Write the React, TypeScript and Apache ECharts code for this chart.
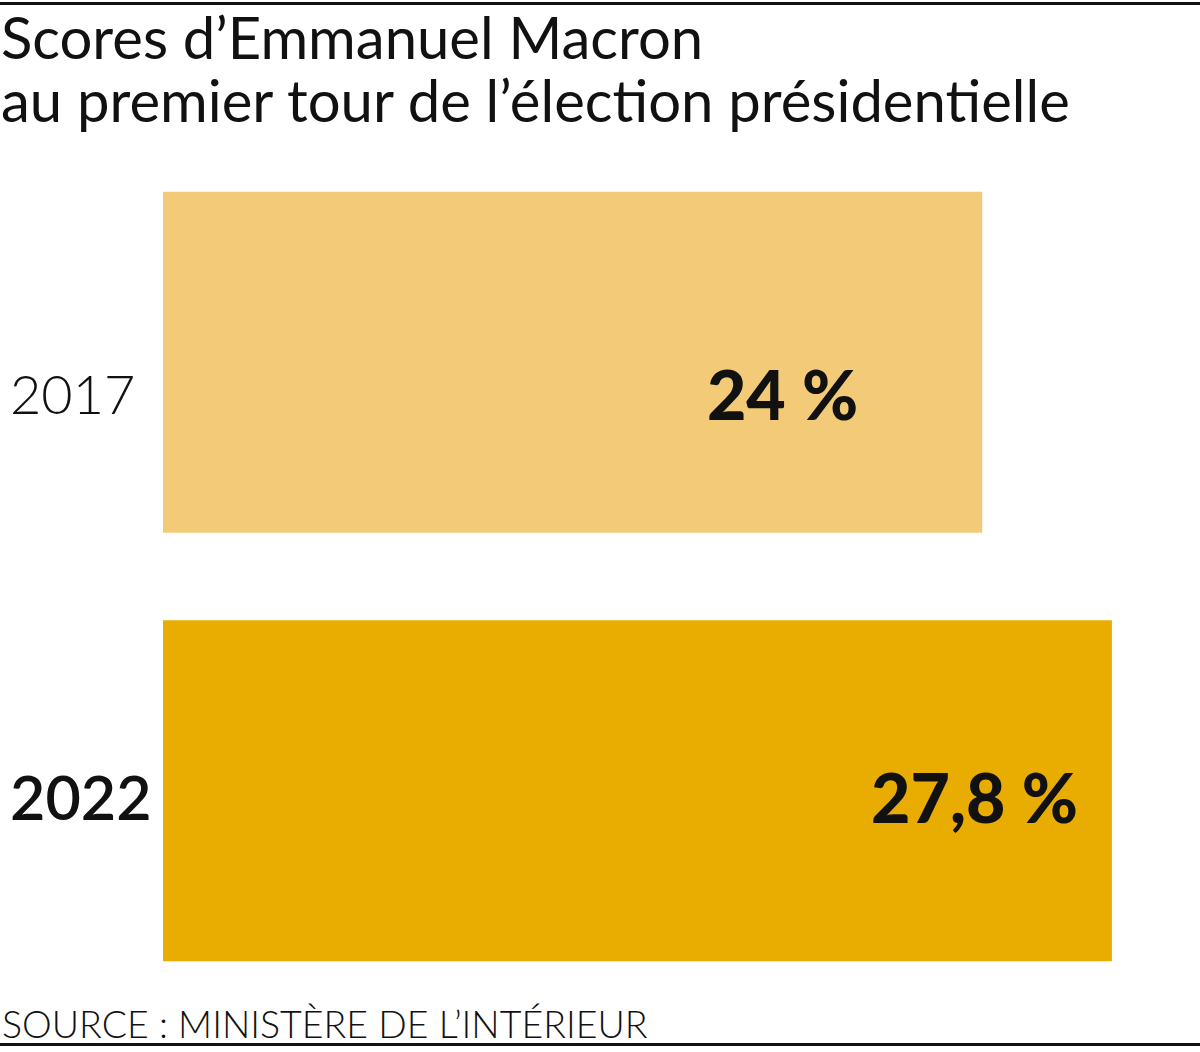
import React, { useEffect, useRef } from "react";
import * as echarts from "echarts";

const years = ["2017", "2022"];
const scores = [24, 27.8];
const scoreLabels = ["24 %", "27,8 %"];
const barColors = ["#F2CA78", "#E9AC00"];
const labelDistances = [124, 34];
const labelOffsets = [31, 6];
const titleLines = ["Scores d’Emmanuel Macron", "au premier tour de l’élection présidentielle"];
const sourceText = "SOURCE : MINISTÈRE DE L’INTÉRIEUR";

export default function App() {
  const ref = useRef<HTMLDivElement>(null);
  useEffect(() => {
    document.body.style.margin = "0";
    const chart = echarts.init(ref.current!, undefined, { renderer: "svg" });
    chart.setOption({
      animation: false,
      backgroundColor: "#ffffff",
      grid: { left: 163, right: 13, top: 148, height: 857, containLabel: false },
      xAxis: { type: "value", min: 0, max: 30, show: false },
      yAxis: {
        type: "category",
        inverse: true,
        data: years,
        axisLine: { show: false },
        axisTick: { show: false },
        axisLabel: {
          align: "left",
          margin: 153,
          formatter: (v: string) => (v === "2022" ? `{b|${v}}` : `{a|${v}}`),
          rich: {
            a: { fontFamily: "Lato", fontWeight: 300, fontSize: 54, color: "#111", padding: [62, 0, 0, 0] },
            b: { fontFamily: "Lato", fontWeight: 600, fontSize: 61, color: "#111", padding: [12, 0, 0, 0] },
          },
        },
      },
      series: [
        {
          type: "bar",
          barWidth: 341,
          data: scores.map((v, i) => ({
            value: v,
            itemStyle: { color: barColors[i] },
            label: {
              show: true,
              position: "insideRight",
              distance: labelDistances[i],
              offset: [0, labelOffsets[i]],
              formatter: scoreLabels[i],
              fontFamily: "Lato",
              fontWeight: 900,
              fontSize: 68,
              color: "#111",
            },
          })),
        },
      ],
      graphic: [
        { type: "rect", shape: { x: 0, y: 2, width: 1200, height: 3 }, style: { fill: "#111" } },
        { type: "rect", shape: { x: 0, y: 1043, width: 1200, height: 3 }, style: { fill: "#111" } },
        {
          type: "text",
          x: 1,
          y: 7,
          style: { text: titleLines[0], fontFamily: "Lato", fontWeight: 400, fontSize: 58, fill: "#111" },
        },
        {
          type: "text",
          x: 1,
          y: 70,
          style: { text: titleLines[1], fontFamily: "Lato", fontWeight: 400, fontSize: 58, fill: "#111" },
        },
        {
          type: "text",
          x: 2,
          y: 1004,
          style: { text: sourceText, fontFamily: "Lato", fontWeight: 300, fontSize: 37.5, fill: "#111" },
        },
      ],
    });
    return () => chart.dispose();
  }, []);
  return <div ref={ref} style={{ position: "absolute", left: 0, top: 0, width: 1200, height: 1052 }} />;
}
